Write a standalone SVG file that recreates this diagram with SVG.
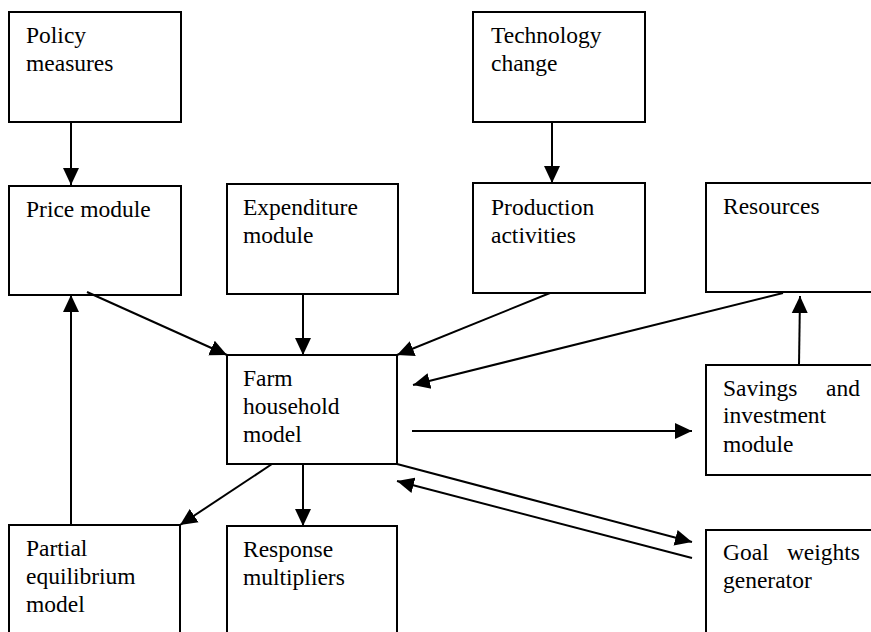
<svg xmlns="http://www.w3.org/2000/svg" width="871" height="632" viewBox="0 0 871 632">
<style>
.box{fill:#fff;stroke:#000;stroke-width:2}
.lbl{font-family:"Liberation Serif","Times New Roman",serif;font-size:23.5px;fill:#000}
.con{stroke:#000;stroke-width:2;fill:none;marker-end:url(#ah)}
</style>
<defs>
<marker id="ah" markerUnits="userSpaceOnUse" markerWidth="18" markerHeight="18" viewBox="0 0 18 16" refX="17" refY="8" orient="auto">
<path d="M0,0 L17,8 L0,16 z" fill="#000"/>
</marker>
</defs>
<rect width="871" height="632" fill="#fff"/>
<g id="policy"><rect class="box" x="9" y="12" width="172" height="110"/><text class="lbl" x="26" y="43">Policy</text><text class="lbl" x="26" y="71">measures</text></g>
<g id="technology"><rect class="box" x="473" y="12" width="172" height="110"/><text class="lbl" x="491" y="43">Technology</text><text class="lbl" x="491" y="71">change</text></g>
<g id="price"><rect class="box" x="9" y="186" width="172" height="109"/><text class="lbl" x="26" y="217">Price module</text></g>
<g id="expenditure"><rect class="box" x="227" y="184" width="171" height="110"/><text class="lbl" x="243" y="215">Expenditure</text><text class="lbl" x="243" y="243">module</text></g>
<g id="production"><rect class="box" x="473" y="183" width="172" height="110"/><text class="lbl" x="491" y="215">Production</text><text class="lbl" x="491" y="243">activities</text></g>
<g id="resources"><rect class="box" x="706" y="183" width="200" height="109"/><text class="lbl" x="723" y="214">Resources</text></g>
<g id="farm"><rect class="box" x="227" y="355" width="170" height="109"/><text class="lbl" x="243" y="386">Farm</text><text class="lbl" x="243" y="414">household</text><text class="lbl" x="243" y="442">model</text></g>
<g id="savings"><rect class="box" x="706" y="365" width="200" height="110"/><text class="lbl" x="723" y="396">Savings</text><text class="lbl" x="860" y="396" text-anchor="end">and</text><text class="lbl" x="723" y="423">investment</text><text class="lbl" x="723" y="452">module</text></g>
<g id="partial"><rect class="box" x="9" y="525" width="171" height="120"/><text class="lbl" x="26" y="556">Partial</text><text class="lbl" x="26" y="584">equilibrium</text><text class="lbl" x="26" y="612">model</text></g>
<g id="response"><rect class="box" x="227" y="526" width="170" height="120"/><text class="lbl" x="243" y="557">Response</text><text class="lbl" x="243" y="585">multipliers</text></g>
<g id="goal"><rect class="box" x="706" y="530" width="200" height="120"/><text class="lbl" x="723" y="560">Goal</text><text class="lbl" x="860" y="560" text-anchor="end">weights</text><text class="lbl" x="723" y="588">generator</text></g>
<g id="connectors">
<line class="con" x1="71" y1="122" x2="71" y2="185"/>
<line class="con" x1="552" y1="122" x2="552" y2="183"/>
<line class="con" x1="87" y1="292" x2="227" y2="355"/>
<line class="con" x1="303" y1="294" x2="303" y2="355"/>
<line class="con" x1="550" y1="293" x2="397" y2="355"/>
<line class="con" x1="783" y1="293" x2="413" y2="385"/>
<line class="con" x1="412" y1="431" x2="692" y2="431"/>
<line class="con" x1="799" y1="365" x2="800" y2="296"/>
<line class="con" x1="397" y1="464" x2="692" y2="542"/>
<line class="con" x1="692" y1="558" x2="397" y2="481"/>
<line class="con" x1="272" y1="464" x2="180" y2="525"/>
<line class="con" x1="303" y1="464" x2="303" y2="526"/>
<line class="con" x1="71" y1="525" x2="71" y2="295"/>
</g>
</svg>
